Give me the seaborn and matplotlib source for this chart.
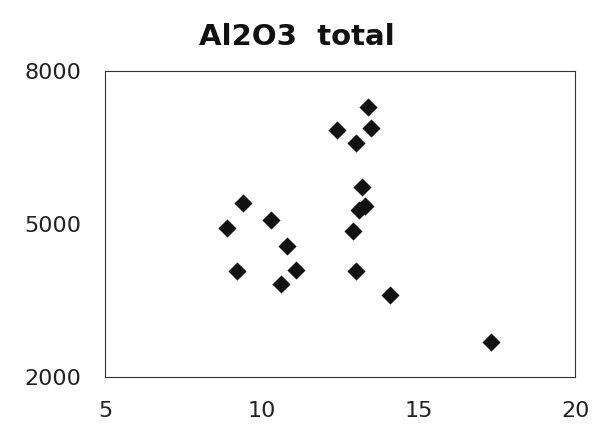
import matplotlib
matplotlib.use("Agg")
import matplotlib.pyplot as plt
import seaborn as sns
import pandas as pd

# values
x_vals = [8.9, 9.4, 9.2, 10.3, 10.8, 10.6, 11.1,
          12.4, 13.0, 13.4, 13.5, 13.2, 13.1, 13.3, 12.9, 13.0, 14.1, 17.3]
y_vals = [4920, 5410, 4090, 5090, 4580, 3820, 4100,
          6840, 6590, 7290, 6880, 5720, 5270, 5360, 4860, 4090, 3620, 2690]
x_ticks = [5, 10, 15, 20]
y_ticks = [2000, 5000, 8000]

df = pd.DataFrame({"x": x_vals, "y": y_vals})

sns.set_style("white")
plt.rcParams['font.family'] = ['DejaVu Sans']

fig = plt.figure(figsize=(5.93, 4.34), dpi=100)
ax = fig.add_axes([0.177, 0.131, 0.793, 0.705])

sns.scatterplot(data=df, x="x", y="y", marker="D", s=85, color="#111111",
                linewidth=0, ax=ax)

ax.set_xlim(5, 20)
ax.set_ylim(2000, 8000)
ax.set_xticks(x_ticks)
ax.set_yticks(y_ticks)
ax.set_xlabel("")
ax.set_ylabel("")
ax.tick_params(axis="both", length=0, labelsize=16, colors="#222222")
ax.tick_params(axis="x", pad=17)
ax.tick_params(axis="y", pad=17)
for sp in ax.spines.values():
    sp.set_visible(True)
    sp.set_color("#333333")
    sp.set_linewidth(0.8)

fig.text(0.5, 0.915, "Al2O3  total", ha="center", va="center",
         fontsize=21, fontweight="bold", color="#111111")

fig.savefig("out.png", dpi=100)
